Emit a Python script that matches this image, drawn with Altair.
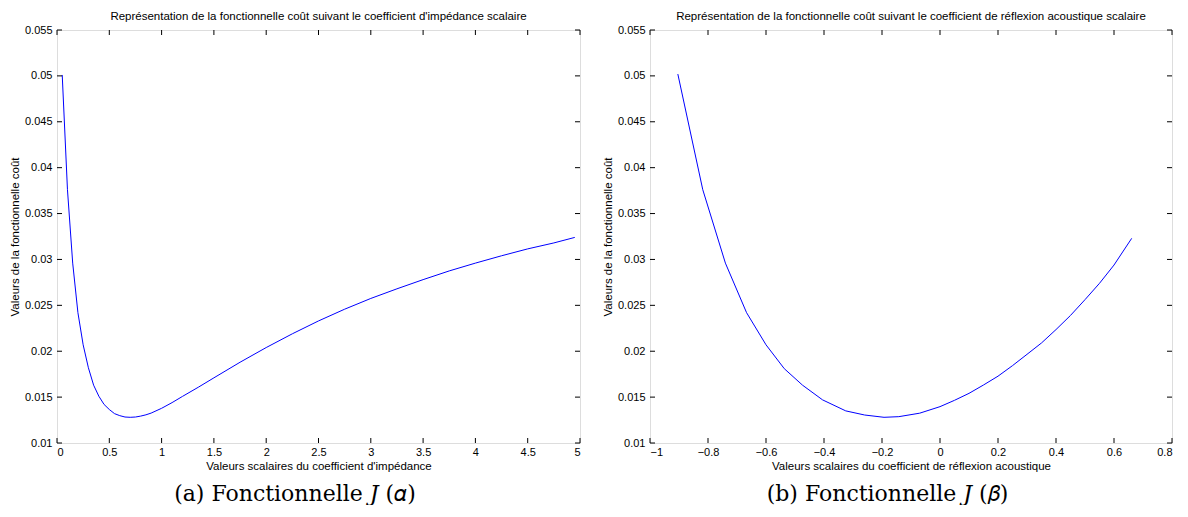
import altair as alt
import pandas as pd

# Left panel: J(alpha)
alpha_vals = [0.05, 0.10, 0.15, 0.20, 0.25, 0.30, 0.35, 0.40, 0.45, 0.50, 0.55, 0.60, 0.65,
              0.70, 0.75, 0.80, 0.85, 0.90, 1.00, 1.10, 1.20, 1.35, 1.50, 1.75, 2.00, 2.25,
              2.50, 2.75, 3.00, 3.25, 3.50, 3.75, 4.00, 4.25, 4.50, 4.75, 4.95]
j_alpha = [0.0501, 0.0376, 0.0296, 0.0242, 0.0207, 0.0182, 0.0163, 0.0151, 0.0142, 0.01365,
           0.0132, 0.01298, 0.01283, 0.0128, 0.01283, 0.01293, 0.01307, 0.01326, 0.01378,
           0.0144, 0.01508, 0.01607, 0.0171, 0.0188, 0.0204, 0.0219, 0.0233, 0.02458,
           0.02575, 0.0268, 0.0278, 0.02875, 0.0296, 0.0304, 0.03115, 0.0318, 0.0324]

# Right panel: J(beta)
beta_vals = [-0.904, -0.818, -0.740, -0.667, -0.600, -0.537, -0.474, -0.405, -0.325, -0.260,
             -0.193, -0.142, -0.070, 0.0, 0.05, 0.10, 0.15, 0.20, 0.25, 0.30, 0.35, 0.40,
             0.45, 0.50, 0.55, 0.60, 0.661]
j_beta = [0.0502, 0.0376, 0.0296, 0.0242, 0.0207, 0.0181, 0.0163, 0.0147, 0.0135, 0.01305,
          0.0128, 0.01287, 0.01325, 0.01396, 0.01465, 0.01541, 0.01632, 0.01728, 0.01843,
          0.01966, 0.0209, 0.02236, 0.0239, 0.02562, 0.0274, 0.02939, 0.0323]

y_ticks = [0.01, 0.015, 0.02, 0.025, 0.03, 0.035, 0.04, 0.045, 0.05, 0.055]
x_ticks_a = [0, 0.5, 1, 1.5, 2, 2.5, 3, 3.5, 4, 4.5, 5]
x_ticks_b = [-1, -0.8, -0.6, -0.4, -0.2, 0, 0.2, 0.4, 0.6, 0.8]

FONT = "Liberation Sans"
SERIF = "DejaVu Serif"
TK = 5
H = 413


def panel(xs, ys, xdom, xticks, xtitle, title, caption, width):
    df = pd.DataFrame({"x": xs, "y": ys})
    xt = pd.DataFrame({"x": xticks})
    yt = pd.DataFrame({"y": y_ticks})
    xs_ = alt.Scale(domain=xdom, nice=False, zero=False)
    ys_ = alt.Scale(domain=[0.01, 0.055], nice=False, zero=False)
    xaxis = alt.Axis(values=xticks, format="~g", domain=False, grid=False, ticks=False,
                     labelFont=FONT, labelFontSize=11, labelColor="black", labelPadding=3,
                     title=xtitle, titleFont=FONT, titleFontSize=11.5, titleFontWeight="normal",
                     titleColor="black", titlePadding=3)
    yaxis = alt.Axis(values=y_ticks, format="~g", domain=False, grid=False, ticks=False,
                     labelFont=FONT, labelFontSize=11, labelColor="black", labelPadding=5,
                     title="Valeurs de la fonctionnelle coût", titleFont=FONT,
                     titleFontSize=11.5, titleFontWeight="normal", titleColor="black",
                     titlePadding=4)
    X = alt.X("x:Q", scale=xs_, axis=xaxis, title=xtitle)
    Y = alt.Y("y:Q", scale=ys_, axis=yaxis, title="Valeurs de la fonctionnelle coût")
    line = alt.Chart(df).mark_line(color="#0000ff", strokeWidth=1).encode(x=X, y=Y)
    tick_style = dict(color="black", strokeWidth=1)
    bottom = alt.Chart(xt).mark_rule(**tick_style).encode(
        x=X, y=alt.value(H), y2=alt.value(H - TK))
    top = alt.Chart(xt).mark_rule(**tick_style).encode(
        x=X, y=alt.value(0), y2=alt.value(TK))
    lft = alt.Chart(yt).mark_rule(**tick_style).encode(
        y=Y, x=alt.value(0), x2=alt.value(TK))
    rgt = alt.Chart(yt).mark_rule(**tick_style).encode(
        y=Y, x=alt.value(width), x2=alt.value(width - TK))
    inner = alt.layer(line, bottom, top, lft, rgt).properties(
        width=width, height=H,
        title=alt.TitleParams(title, font=FONT, fontSize=11.5, fontWeight="normal",
                              color="black", anchor="middle", frame="group", offset=2),
    )
    return alt.vconcat(inner).properties(
        title=alt.TitleParams(caption, orient="bottom", font=SERIF, fontSize=22,
                              fontWeight="normal", color="black", anchor="middle", offset=12)
    )


left = panel(alpha_vals, j_alpha, [0, 5], x_ticks_a,
             "Valeurs scalaires du coefficient d'impédance",
             "Représentation de la fonctionnelle coût suivant le coefficient d'impédance scalaire",
             "(a)  Fonctionnelle  𝐽 (𝛼)", 523)
right = panel(beta_vals, j_beta, [-1, 0.8], x_ticks_b,
              "Valeurs scalaires du coefficient de réflexion acoustique",
              "Représentation de la fonctionnelle coût suivant le coefficient de réflexion acoustique scalaire",
              "(b)  Fonctionnelle  𝐽 (𝛽)", 522)

chart = alt.hconcat(left, right, spacing=20).configure_view(
    stroke="black", strokeWidth=1
).configure(background="white", padding={"left": 0, "top": 2, "right": 0, "bottom": 0})

chart.save("out.html", embed_options={"renderer": "svg", "actions": False})
